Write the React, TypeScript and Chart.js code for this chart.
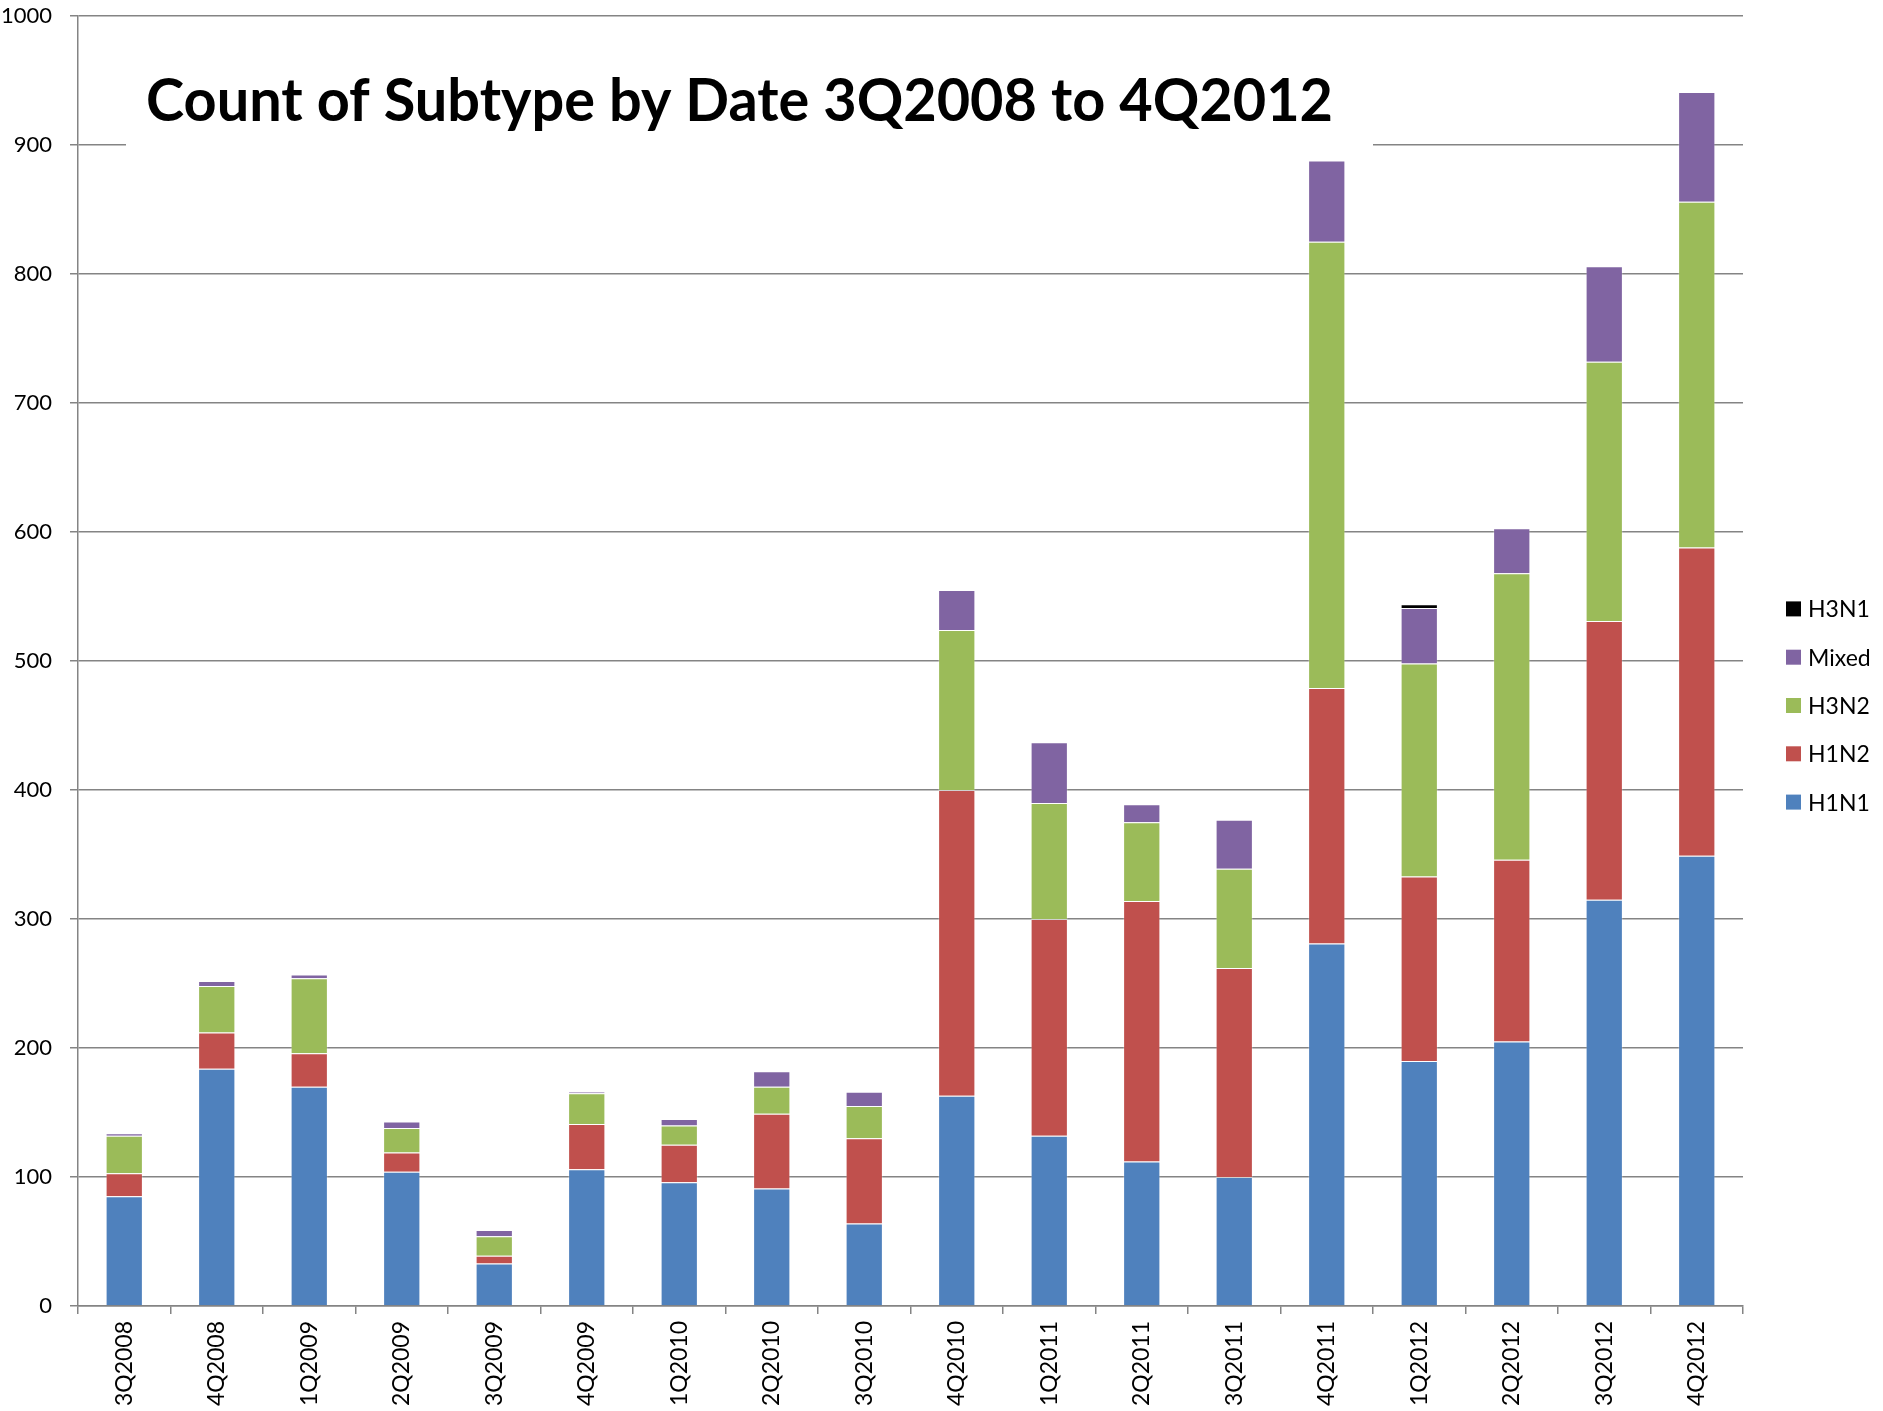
import React, { useEffect, useRef } from "react";
import { Chart, registerables } from "chart.js";

Chart.register(...registerables);

const categories = [
  "3Q2008", "4Q2008", "1Q2009", "2Q2009", "3Q2009", "4Q2009",
  "1Q2010", "2Q2010", "3Q2010", "4Q2010", "1Q2011", "2Q2011",
  "3Q2011", "4Q2011", "1Q2012", "2Q2012", "3Q2012", "4Q2012",
];

const h1n1 = [85, 184, 170, 104, 33, 106, 96, 91, 64, 163, 132, 112, 100, 281, 190, 205, 315, 349];
const h1n2 = [18, 28, 26, 15, 6, 35, 29, 58, 66, 237, 168, 202, 162, 198, 143, 141, 216, 239];
const h3n2 = [29, 36, 58, 19, 15, 24, 15, 21, 25, 124, 90, 61, 77, 346, 165, 222, 201, 268];
const mixed = [2, 4, 3, 5, 5, 1, 5, 12, 11, 31, 47, 14, 38, 63, 43, 35, 74, 85];
const h3n1 = [0, 0, 0, 0, 0, 0, 0, 0, 0, 0, 0, 0, 0, 0, 3, 0, 0, 0];

const yTicks = [0, 100, 200, 300, 400, 500, 600, 700, 800, 900, 1000];

const titleText = "Count of Subtype by Date 3Q2008 to 4Q2012";

const seriesNames = ["H1N1", "H1N2", "H3N2", "Mixed", "H3N1"];
const seriesColors = ["#4F81BD", "#C0504D", "#9BBB59", "#8064A2", "#000000"];
const seriesValues = [h1n1, h1n2, h3n2, mixed, h3n1];

const FONT = "Lato, 'Open Sans', sans-serif";
const GRID = "#848484";

const titlePlugin = {
  id: "titleBox",
  beforeDatasetsDraw(chart: any) {
    const { ctx, chartArea } = chart;
    const l = chartArea.left;
    ctx.save();
    ctx.fillStyle = "#ffffff";
    ctx.fillRect(l + 48, chartArea.top + 20, 1247, 115);
    ctx.font = `bold 60px ${FONT}`;
    ctx.fillStyle = "#000000";
    ctx.textBaseline = "alphabetic";
    ctx.textAlign = "left";
    const w = ctx.measureText(titleText).width;
    const target = 1187;
    const x0 = l + 68;
    ctx.translate(x0, 121);
    ctx.scale(target / w, 1);
    ctx.fillText(titleText, 0, 0);
    ctx.restore();
  },
};

const legendPlugin = {
  id: "customLegend",
  afterDraw(chart: any) {
    const { ctx, chartArea, height } = chart;
    const x = chartArea.right + 43;
    const spacing = 48.3;
    const n = seriesNames.length;
    const cy = height / 2;
    ctx.save();
    ctx.font = `23px ${FONT}`;
    ctx.textBaseline = "middle";
    ctx.textAlign = "left";
    for (let i = 0; i < n; i++) {
      const idx = n - 1 - i;
      const y = cy + (i - (n - 1) / 2) * spacing;
      ctx.fillStyle = seriesColors[idx];
      ctx.fillRect(x, y - 7.5, 15, 15);
      ctx.fillStyle = "#000000";
      ctx.fillText(seriesNames[idx], x + 22, y + 1);
    }
    ctx.restore();
  },
};

export default function App() {
  const ref = useRef<HTMLCanvasElement>(null);

  useEffect(() => {
    document.body.style.margin = "0";
    if (!ref.current) return;
    const chart = new Chart(ref.current, {
      type: "bar",
      data: {
        labels: categories,
        datasets: seriesNames.map((name, i) => ({
          label: name,
          data: seriesValues[i],
          backgroundColor: seriesColors[i],
          borderColor: "rgba(255,255,255,0.25)",
          borderWidth: 1,
          categoryPercentage: 1,
          barPercentage: 0.403,
        })),
      },
      options: {
        responsive: false,
        animation: false,
        layout: { padding: { top: 16, right: 140, left: 0, bottom: 0 } },
        plugins: {
          legend: { display: false },
          title: { display: false },
          tooltip: { enabled: false },
        },
        scales: {
          x: {
            stacked: true,
            afterFit: (s: any) => {
              s.height = 105;
              s.paddingLeft = 0;
              s.paddingRight = 0;
            },
            grid: {
              display: true,
              drawOnChartArea: false,
              drawTicks: true,
              tickLength: 8,
              color: GRID,
              lineWidth: 1.5,
              offset: true,
            },
            border: { display: true, color: GRID, width: 1.5 },
            ticks: {
              autoSkip: false,
              minRotation: 90,
              maxRotation: 90,
              padding: 7,
              color: "#000000",
              font: { family: FONT, size: 23 },
            },
          },
          y: {
            stacked: true,
            min: 0,
            max: 1000,
            afterFit: (s: any) => {
              s.width = 78;
              s.paddingTop = 0;
              s.paddingBottom = 0;
            },
            afterBuildTicks: (s: any) => { s.ticks = yTicks.map((v) => ({ value: v })); },
            grid: {
              color: GRID,
              lineWidth: 1.5,
              tickLength: 8,
              drawTicks: true,
            },
            border: { display: true, color: GRID, width: 1.5 },
            ticks: {
              padding: 18,
              color: "#000000",
              font: { family: FONT, size: 22 },
              callback: (v: any) => String(v),
            },
          },
        },
      },
      plugins: [titlePlugin, legendPlugin],
    });
    return () => chart.destroy();
  }, []);

  return (
    <div style={{ width: 1883, height: 1411, position: "relative", background: "#fff" }}>
      <canvas ref={ref} width={1883} height={1411} style={{ display: "block" }} />
    </div>
  );
}
